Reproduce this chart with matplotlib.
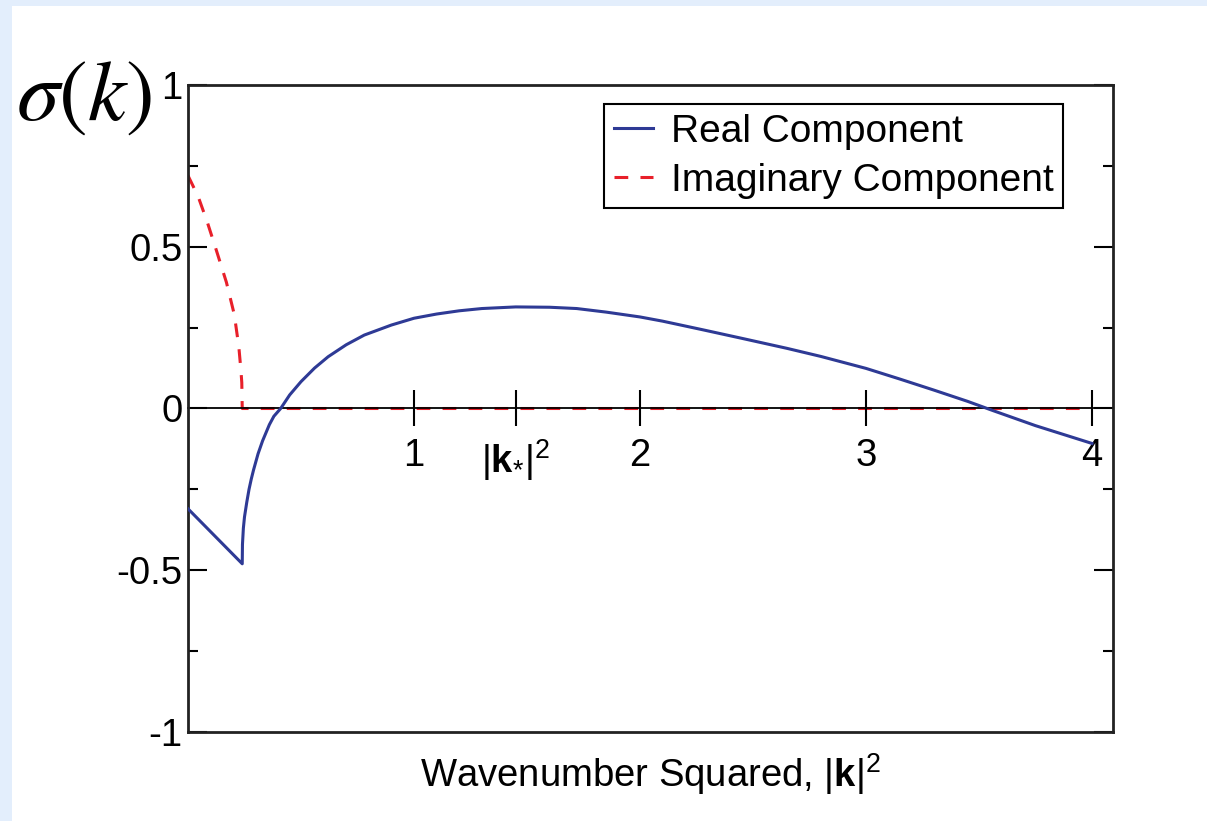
import matplotlib
matplotlib.use('Agg')
import matplotlib.pyplot as plt
from matplotlib.patches import Rectangle

plt.rcParams['font.family'] = ['Liberation Sans', 'DejaVu Sans']
plt.rcParams['mathtext.fontset'] = 'custom'
plt.rcParams['mathtext.rm'] = 'Liberation Sans'
plt.rcParams['mathtext.it'] = 'Liberation Sans:italic'
plt.rcParams['mathtext.bf'] = 'Liberation Sans:bold'
plt.rcParams['axes.unicode_minus'] = False

# growth rate vs |k|^2
real_k = [0.0, 0.24, 0.241, 0.243, 0.245, 0.25, 0.26, 0.27, 0.28, 0.29, 0.31,
          0.33, 0.36, 0.38, 0.41, 0.45, 0.50, 0.56, 0.62, 0.70, 0.78, 0.90,
          1.00, 1.10, 1.20, 1.30, 1.45, 1.60, 1.72, 1.85, 2.00, 2.10, 2.28,
          2.45, 2.65, 2.80, 3.00, 3.15, 3.30, 3.45, 3.56, 3.75, 4.00]
real_sigma = [-0.31, -0.48, -0.42, -0.395, -0.37, -0.335, -0.29, -0.25, -0.218,
              -0.19, -0.14, -0.10, -0.05, -0.024, 0.0, 0.042, 0.083, 0.125,
              0.160, 0.197, 0.227, 0.258, 0.279, 0.292, 0.302, 0.309, 0.314,
              0.313, 0.309, 0.298, 0.283, 0.270, 0.243, 0.217, 0.186, 0.161,
              0.124, 0.091, 0.057, 0.022, -0.006, -0.053, -0.108]

imag_k = [0.0, 0.045, 0.085, 0.125, 0.17, 0.205, 0.225, 0.234, 0.238, 0.24, 4.0]
imag_sigma = [0.72, 0.655, 0.577, 0.49, 0.39, 0.29, 0.19, 0.12, 0.08, 0.0, 0.0]

xticks = [1, 1.45, 2, 3, 4]
xtick_labels = ['1', r'|$\mathbf{k}_{*}$|$^{2}$', '2', '3', '4']
yticks = [-1, -0.5, 0, 0.5, 1]
ytick_labels = ['-1', '-0.5', '0', '0.5', '1']

W, H = 1207, 821
fig = plt.figure(figsize=(W / 100, H / 100), dpi=100, facecolor='#e3eefc')
fig.patches.append(Rectangle((12 / W, 0), 1, 1 - 6 / H, transform=fig.transFigure,
                             facecolor='white', edgecolor='none', zorder=-1))

ax = fig.add_axes([188 / W, 1 - 732 / H, (1113 - 188) / W, (732 - 85) / H])

ax.plot(real_k, real_sigma, color='#2e3a95', lw=2.2, label='Real Component', zorder=3)
ax.plot(imag_k, imag_sigma, color='#e8202a', lw=2.2, dashes=(4.5, 4),
        label='Imaginary Component', zorder=1)

ax.set_xlim(0, 4.093)
ax.set_ylim(-1, 1)
ax.set_yticks(yticks, ytick_labels)
ax.set_yticks([-0.75, -0.25, 0.25, 0.75], minor=True)
ax.tick_params(axis='y', which='both', direction='in', left=True, right=True,
               labelsize=27.5, pad=4)
ax.tick_params(axis='y', which='major', length=13.5, width=1.5)
ax.tick_params(axis='y', which='minor', length=7, width=1.5)
ax.tick_params(axis='x', which='both', bottom=False, top=False, labelbottom=False)
for s in ax.spines.values():
    s.set_linewidth(2.0)
    s.set_color('#222222')

# x axis drawn through sigma = 0
sec = ax.secondary_xaxis(0.5)
sec.set_alignment('bottom')
sec.set_zorder(2)
sec.set_xticks(xticks, xtick_labels)
sec.tick_params(direction='inout', length=26, width=1.5, pad=8, labelsize=27.5)
sec.spines['bottom'].set_linewidth(1.3)

ax.set_xlabel(r'Wavenumber Squared, |$\mathbf{k}$|$^{2}$', fontsize=27.5, labelpad=14)

leg = ax.legend(loc='upper right', bbox_to_anchor=(1063 / W, 1 - 104 / H),
                bbox_transform=fig.transFigure, fontsize=28, frameon=True,
                fancybox=False, framealpha=1, edgecolor='black', borderpad=0.25,
                labelspacing=0.33, handlelength=1.0, handletextpad=0.45,
                borderaxespad=0)
leg.get_frame().set_linewidth(1.5)

fig.text(84 / W, 1 - 98 / H, r'$\sigma(k)$', fontsize=62, math_fontfamily='stix',
         ha='center', va='center')

fig.savefig('out.png', dpi=100, facecolor=fig.get_facecolor())
